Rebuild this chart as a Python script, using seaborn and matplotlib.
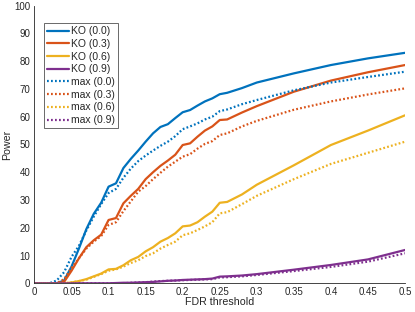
import pandas as pd
import seaborn as sns
import matplotlib
matplotlib.use("Agg")
import matplotlib.pyplot as plt
from matplotlib.ticker import FuncFormatter

fdr = [0.00, 0.01, 0.02, 0.03, 0.04, 0.05, 0.06, 0.07, 0.08, 0.09,
       0.10, 0.11, 0.12, 0.13, 0.14, 0.15, 0.16, 0.17, 0.18, 0.19,
       0.20, 0.21, 0.22, 0.23, 0.24, 0.25, 0.26, 0.28, 0.30, 0.35,
       0.40, 0.45, 0.50]

ko_00 = [0, 0, 0, 0, 1, 6, 12.5, 19.5, 25, 29,
         34.8, 36, 41.5, 44.8, 47.8, 51, 54, 56.3, 57.3, 59.5,
         61.6, 62.4, 64, 65.5, 66.6, 68.1, 68.6, 70.3, 72.3, 75.6,
         78.6, 81, 83]
ko_03 = [0, 0, 0, 0, 0.5, 4.5, 9, 13, 15.5, 17.5,
         22.8, 23.5, 28.8, 31.5, 34, 37.5, 40, 42.3, 44.2, 46.3,
         49.8, 50.4, 52.8, 55, 56.5, 58.8, 59, 61.5, 63.8, 69,
         73, 76, 78.6]
ko_06 = [0, 0, 0, 0, 0, 0.3, 0.8, 1.5, 2.5, 3.5,
         5, 5.2, 6.5, 8.3, 9.5, 11.5, 13, 15, 16.3, 18,
         20.5, 20.8, 22, 24, 25.8, 29, 29.3, 32, 35.5, 42.5,
         49.8, 55, 60.5]
ko_09 = [0, 0, 0, 0, 0, 0, 0, 0, 0, 0,
         0, 0.1, 0.2, 0.2, 0.3, 0.4, 0.5, 0.7, 0.9, 1.0,
         1.2, 1.3, 1.4, 1.5, 1.7, 2.4, 2.5, 2.8, 3.3, 4.9,
         6.6, 8.6, 12]

max_00 = [0, 0, 0, 1, 4, 9.5, 13.5, 19, 24, 28.5,
          32.5, 34, 38, 41.3, 44, 46, 47.8, 49.5, 51, 53,
          55.5, 56.5, 57.6, 59, 60, 62, 62.6, 64.5, 66, 69.5,
          72.3, 74.3, 76.2]
max_03 = [0, 0, 0, 0, 1.5, 5.5, 9, 12.5, 15, 17,
          21, 22, 26, 29.5, 33, 35, 37.5, 39.8, 42, 43.8,
          45.6, 46.5, 48.5, 50.2, 51.2, 53.4, 54, 56.5, 58.5, 62.5,
          65.5, 68, 70.2]
max_06 = [0, 0, 0, 0, 0, 0.3, 0.8, 1.3, 2.3, 3.3,
          4.5, 5, 6, 7.3, 8.3, 9.8, 10.8, 12.5, 13.8, 15,
          17.3, 18, 19.2, 20.5, 22, 25.2, 25.6, 28.5, 31.5, 37.5,
          43, 47, 51]
max_09 = [0, 0, 0, 0, 0, 0, 0, 0, 0, 0,
          0, 0, 0, 0.2, 0.3, 0.4, 0.6, 0.8, 0.9, 1.0,
          1.1, 1.2, 1.3, 1.4, 1.5, 2.1, 2.2, 2.5, 3.0, 4.4,
          5.9, 7.8, 10.8]

series = [
    ('KO (0.0)', ko_00), ('KO (0.3)', ko_03), ('KO (0.6)', ko_06), ('KO (0.9)', ko_09),
    ('max (0.0)', max_00), ('max (0.3)', max_03), ('max (0.6)', max_06), ('max (0.9)', max_09),
]
colores = ['#0072BD', '#D95319', '#EDB120', '#7E2F8E']

sns.set_style('white')
plt.rcParams['font.family'] = ['Liberation Sans', 'DejaVu Sans']
texto = '#262626'

fig = plt.figure(figsize=(4.15, 3.12), dpi=100)
ax = fig.add_axes([0.083, 0.092, 0.893, 0.890])

for i, (nombre, valores) in enumerate(series):
    df = pd.DataFrame({'fdr': fdr, 'power': valores})
    estilo = '-' if i < 4 else (0, (0.8, 1.0))
    sns.lineplot(data=df, x='fdr', y='power', ax=ax, color=colores[i % 4],
                 linestyle=estilo, linewidth=1.6, label=nombre)

ax.set_xlim(0, 0.5)
ax.set_ylim(0, 100)
ax.set_xticks([i * 0.05 for i in range(11)])
ax.set_yticks(range(0, 101, 10))
ax.xaxis.set_major_formatter(FuncFormatter(lambda v, p: f'{v:g}'))
ax.tick_params(direction='in', length=3, width=0.6, labelsize=7,
               colors=texto, pad=3)
ax.tick_params(axis='x', pad=2.5)
for lado in ['top', 'right']:
    ax.spines[lado].set_visible(False)
for lado in ['left', 'bottom']:
    ax.spines[lado].set_color(texto)
    ax.spines[lado].set_linewidth(0.6)

ax.set_xlabel('FDR threshold', fontsize=7.7, color=texto)
ax.xaxis.set_label_coords(0.5, -0.05)
ax.set_ylabel('Power', fontsize=7.7, color=texto)
ax.yaxis.set_label_coords(-0.06, 0.5)

leg = ax.legend(loc='upper left', bbox_to_anchor=(0.026, 0.937), fontsize=7.5,
                frameon=True, fancybox=False, handlelength=2.1, handletextpad=0.2,
                borderpad=0.3, labelspacing=0.26, borderaxespad=0)
leg.get_frame().set_edgecolor('#262626')
leg.get_frame().set_linewidth(0.6)
for t in leg.get_texts():
    t.set_color(texto)

plt.savefig('out.png', dpi=100)
